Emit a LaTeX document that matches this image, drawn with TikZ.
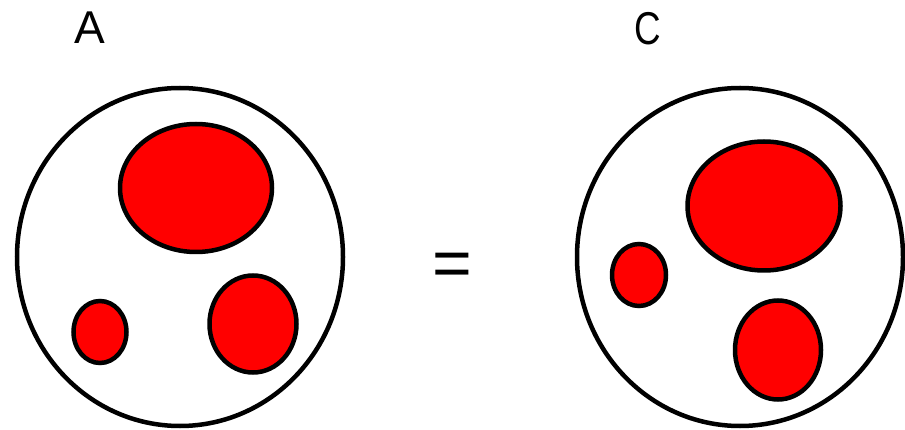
\documentclass[tikz,border=0pt]{standalone}
\usepackage{fontspec}
\setmainfont{Liberation Sans}
\usepackage{tikz}
\usetikzlibrary{calc}
\definecolor{blobRed}{RGB}{255,0,0}
\tikzset{
  cell/.style={draw=black, line width=4.5pt, fill=white},
  blob/.style={draw=black, line width=4.5pt, fill=blobRed},
  tag/.style={font=\fontsize{46}{46}\selectfont, inner sep=0pt},
}

\begin{document}
\begin{tikzpicture}[x=1pt, y=-1pt]
  \useasboundingbox (0,0) rectangle (905,430);
  % ================= set A =================
  \draw[cell] (180,257) ellipse (163 and 169);
  \draw[blob] (196,188) ellipse (76 and 64);
  \draw[blob] (100,332) ellipse (26.5 and 31);
  \draw[blob] (253,324) ellipse (43.5 and 48.5);
  \node[tag] (labA) at (90,28) {A};
  % ================= equals =================
  \node[tag, font=\fontsize{68}{68}\selectfont] (eq) at (452,270) {=};
  % ================= set C =================
  \draw[cell] (740,257) ellipse (163 and 169);
  \draw[blob] (764,206) ellipse (76.5 and 64.5);
  \draw[blob] (639,275) ellipse (27 and 31);
  \draw[blob] (778,350) ellipse (43 and 49.5);
  \node[tag, xscale=0.8] (labC) at (648,29) {C};
\end{tikzpicture}
\end{document}
